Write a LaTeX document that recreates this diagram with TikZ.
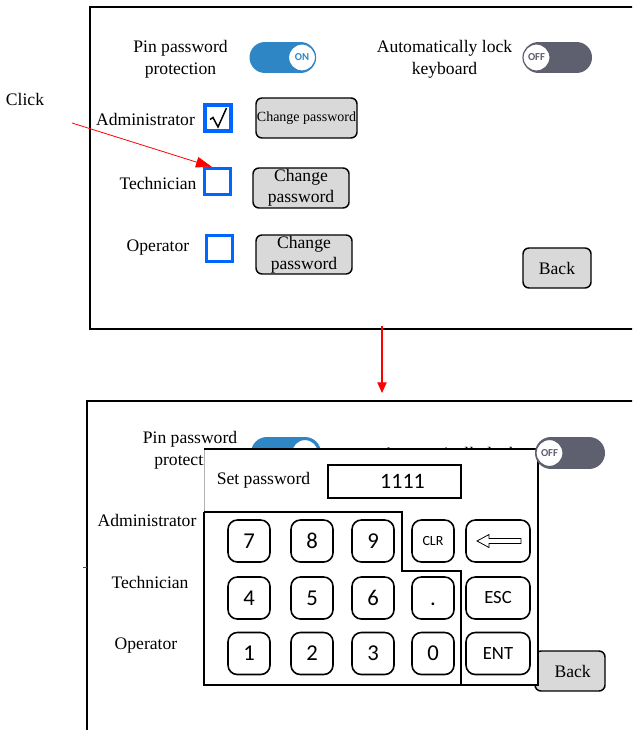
\documentclass[tikz,border=0pt]{standalone}
\usepackage{fontspec}
\setmainfont{Liberation Serif}
\newfontfamily\keyfont{Carlito}
\usetikzlibrary{arrows.meta,calc}
\definecolor{togblue}{RGB}{47,134,196}
\definecolor{toggray}{RGB}{94,96,112}
\definecolor{chkblue}{RGB}{0,102,255}
\definecolor{btngray}{RGB}{217,217,217}
\begin{document}
\begin{tikzpicture}[x=0.75pt,y=-0.75pt,
  lbl/.style={font=\fontsize{13.2}{16.5}\selectfont, align=center, inner sep=0pt},
  sz/.style 2 args={minimum width=#1*0.75pt, minimum height=#2*0.75pt},
  panelline/.style={line width=1.1pt},
  chkbox/.style={draw=chkblue, line width=2.3pt, minimum size=26*0.75pt, inner sep=0pt},
  btn/.style={draw=black, fill=btngray, line width=1.1pt, rounded corners=4.5pt,
    inner sep=0pt, align=center, font=\fontsize{13.2}{15.5}\selectfont},
  key/.style={draw=black, fill=white, line width=1.2pt, rounded corners=7pt,
    inner sep=0pt, font=\keyfont\fontsize{17}{20}\selectfont},
  knob/.style={circle, fill=white, line width=0.9pt, minimum size=27*0.75pt,
    inner sep=0pt, font=\keyfont\bfseries\fontsize{8}{9}\selectfont},
  redarrow/.style={draw=red, line width=0.6pt}
]
\clip (0,0) rectangle (632,730);
\fill[white] (0,0) rectangle (632,730);

% ---------------- settings screen ----------------
\draw[panelline] (640,7) -| (90,329) -- (640,329);

\node[lbl] (pin1) at (180.5,59) {Pin password\\protection};
\draw[togblue, line width=23.25pt, line cap=round] (265,57.5) -- (300.5,57.5);
\node[knob, draw=togblue, text=togblue] (on1) at (302,57.5) {ON};

\node[lbl] (auto1) at (444.5,59) {Automatically lock\\keyboard};
\draw[toggray, line width=23.25pt, line cap=round] (538.5,57.5) -- (576.5,57.5);
\node[knob, draw=toggray, text=toggray] (off1) at (536.5,57.5) {OFF};

\node[lbl] (adm1) at (145.5,119) {Administrator};
\node[chkbox] (admchk) at (218,118) {};
% tick mark inside the administrator box
\draw[line width=1.1pt, line join=miter]
  ($(admchk.center)+(-8,1.5)$) -- ($(admchk.center)+(-5,-0.5)$)
  -- ($(admchk.center)+(0,9)$) -- ($(admchk.center)+(8.5,-10)$);
\node[btn, sz={101}{40}, font=\fontsize{10.5}{12}\selectfont] (admbtn) at (306.5,118) {Change password};

\node[lbl] (tec1) at (158,183) {Technician};
\node[chkbox] (techchk) at (217.5,181.5) {};
\node[btn, sz={96}{40}] (tecbtn) at (301,188) {Change\\password};

\node[lbl] (opr1) at (158,248) {Operator};
\node[chkbox] (oprchk) at (219.5,248.5) {};
\node[btn, sz={96}{39}] (oprbtn) at (304,254.5) {Change\\password};

\node[btn, sz={68}{40}] (back1) at (557,268) {Back};

% click hint
\node[lbl] (click) at (25,99) {Click};
\coordinate (clickfrom) at (72,123);
\draw[redarrow, -{Triangle[length=12pt,width=8pt]}] (clickfrom) -- ($(techchk.north west)+(9,0)$);

% transition to the next screen
\coordinate (downfrom) at (382,326);
\coordinate (downto) at (382,393);
\draw[redarrow, line width=0.8pt, -{Triangle[length=8pt,width=7pt]}] (downfrom) -- (downto);

% ---------------- password entry screen ----------------
\draw[panelline] (640,401) -| (87,740);
\draw[red, line width=0.6pt] (83,567) -- (87,567);

\node[lbl] (pin2) at (190,450) {Pin password\\protection};
\draw[togblue, line width=24pt, line cap=round] (267,453) -- (305,453);
\node[knob, draw=togblue, text=togblue] (on2) at (305,453) {ON};
\node[lbl] (auto2) at (450,466) {Automatically lock\\keyboard};

\node[lbl] (adm2) at (147,520) {Administrator};
\node[lbl] (tec2) at (150,582) {Technician};
\node[lbl] (opr2) at (146,646) {Operator};
\node[btn, sz={70}{40}] (back2) at (570,671) {\hspace*{4pt}Back};

% keypad pop-up
\fill[white] (204,449) rectangle (538,685);
\draw[gray!60, line width=0.5pt] (204,512) -- (204,449);
\draw[line width=1.1pt] (204,449) -- (538,449) -- (538,685) -- (204,685) -- (204,512);
\draw[line width=1.1pt] (204,512) -- (402,512) -- (402,571) -- (461,571) -- (461,685);

\node[lbl] (setpw) at (263.5,480) {Set password};
\node[draw=black, line width=1.2pt, sz={133}{33}, inner sep=0pt,
  font=\keyfont\fontsize{16.5}{20}\selectfont] (pwfield) at (394.5,481.5) {\hspace*{12pt}1111};

\node[key, sz={42}{42}] (k7) at (249,541) {7};
\node[key, sz={42}{42}] (k8) at (312,541) {8};
\node[key, sz={42}{42}] (k9) at (373,541) {9};
\node[key, sz={42}{42}, font=\keyfont\fontsize{10.5}{12}\selectfont] (kclr) at (433,541) {CLR};
\node[key, sz={64}{42}] (kbs) at (498,541) {};
\draw[line width=0.6pt] (477,541) -- (489,534.5) -- (489,538.5) -- (521,538.5)
  -- (521,543.5) -- (489,543.5) -- (489,547.5) -- cycle;

\node[key, sz={42}{42}] (k4) at (249,598) {4};
\node[key, sz={42}{42}] (k5) at (312,598) {5};
\node[key, sz={42}{42}] (k6) at (373,598) {6};
\node[key, sz={42}{42}] (kdot) at (433,598) {\vphantom{0}.};
\node[key, sz={64}{42}, font=\keyfont\fontsize{14}{16}\selectfont] (kesc) at (498,598) {ESC};

\node[key, sz={42}{42}] (k1) at (249,653.5) {1};
\node[key, sz={42}{42}] (k2) at (312,653.5) {2};
\node[key, sz={42}{42}] (k3) at (373,653.5) {3};
\node[key, sz={42}{42}] (k0) at (433,653.5) {0};
\node[key, sz={64}{42}, font=\keyfont\fontsize{14}{16}\selectfont] (kent) at (498,653.5) {ENT};

% lock switch sits above the pop-up corner
\draw[toggray, line width=24pt, line cap=round] (551,453) -- (589,453);
\node[knob, draw=toggray, text=toggray] (off2) at (549.5,453) {OFF};
\end{tikzpicture}
\end{document}
